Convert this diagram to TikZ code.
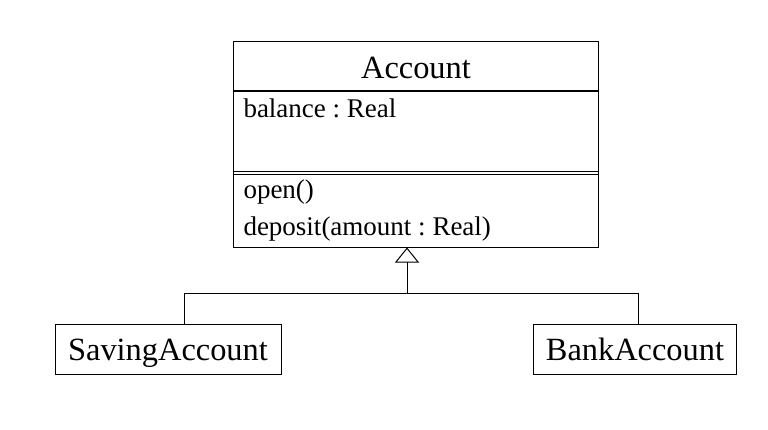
\documentclass[tikz,border=0pt]{standalone}
\usepackage{fontspec}
\setmainfont{Liberation Serif}
\usetikzlibrary{positioning, calc, arrows.meta}
\frenchspacing

\begin{document}
\begin{tikzpicture}[x=1pt, y=-1pt, line width=1pt,
    classbox/.style={draw, inner sep=0pt, minimum height=50pt, text height=22pt, text depth=0pt, font=\fontsize{32.4}{36}\selectfont},
    member/.style={anchor=base west, inner sep=0pt, font=\fontsize{27}{30}\selectfont}]
      \useasboundingbox (0,0) rectangle (768,429);

      \coordinate (lt) at (233,41);
      \coordinate (rb) at (598,247);

      \coordinate (fork) at (407,293);
      \coordinate (sj) at (184,324);
      \coordinate (bj) at (638,324);

      \node[draw, inner sep=0pt, minimum width=365pt, minimum height=206pt] (account) at ($ (lt)!.5!(rb) $) {};

      \node[anchor=base, inner sep=0pt, font=\fontsize{32.4}{36}\selectfont] (title) at (416,78) {Account};
      \draw[line width=2pt] ($ (account.north west) + (0,50) $) -- ($ (account.north east) + (0,50) $);   %title
      \node[member] (attr) at (243,117) {balance : Real};
      \draw ($ (account.north west) + (0,130.5) $) -- ($ (account.north east) + (0,130.5) $);   %attributes
      \draw ($ (account.north west) + (0,133.5) $) -- ($ (account.north east) + (0,133.5) $);
      \node[member] (open) at (243,198) {open()};
      \node[member] (deposit) at (243,235) {deposit(amount : Real)};

      \node[classbox, minimum width=226pt] (saving) at (168,349) {SavingAccount};
      \node[classbox, minimum width=203pt] (bank) at (635,349) {BankAccount};

      \draw (saving.north -| sj) |- (fork);   %left
      \draw (bank.north -| bj) |- (fork);     %right
      \draw[-{Triangle[open, length=15pt, width=24pt]}] (fork) -- (account.south -| fork);
    \end{tikzpicture}
\end{document}
